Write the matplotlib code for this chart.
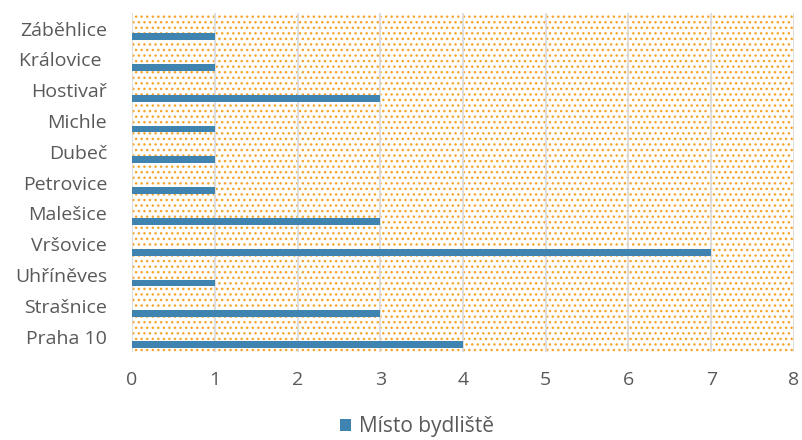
import matplotlib.pyplot as plt
from matplotlib.patches import Rectangle
import numpy as np

# data (top to bottom as in chart)
mista = ['Záběhlice', 'Královice ', 'Hostivař', 'Michle', 'Dubeč', 'Petrovice',
         'Malešice', 'Vršovice', 'Uhříněves', 'Strašnice', 'Praha 10']
pocty = [1, 1, 3, 1, 1, 1, 3, 7, 1, 3, 4]
x_ticks = [0, 1, 2, 3, 4, 5, 6, 7, 8]

plt.rcParams['font.family'] = ['Open Sans', 'DejaVu Sans']
seda = '#595959'

fig = plt.figure(figsize=(8.02, 4.40), dpi=100)
ax = fig.add_axes([0.1646, 0.2, 0.8254, 0.770])

n = len(mista)
y = np.arange(n)[::-1]  # Praha 10 at bottom

# dotted background
ax.add_patch(Rectangle((0, 0), 1, 1, transform=ax.transAxes, facecolor='white',
                       edgecolor='#F7A52E', hatch='...', linewidth=0, zorder=0))

for xv in x_ticks:
    ax.axvline(xv, color='#D9D9D9', linewidth=1.2, zorder=1)

# bars sit in lower part of each category band
ax.barh(y - 0.26, pocty, height=0.22, color='#3F84B1', zorder=2, label='Místo bydliště')

ax.set_xlim(0, 8)
ax.set_ylim(-0.5, n - 0.5)
ax.set_xticks(x_ticks)
ax.set_yticks(y)
ax.set_yticklabels(mista)
ax.tick_params(axis='both', length=0, colors=seda, labelsize=14)
ax.tick_params(axis='x', pad=14)
ax.tick_params(axis='y', pad=18)
for s in ax.spines.values():
    s.set_visible(False)

fig.legend(loc='center', bbox_to_anchor=(0.52, 0.03), frameon=False,
           handlelength=0.5, handleheight=0.5, handletextpad=0.4,
           fontsize=15, labelcolor=seda)

plt.savefig('out.png')
